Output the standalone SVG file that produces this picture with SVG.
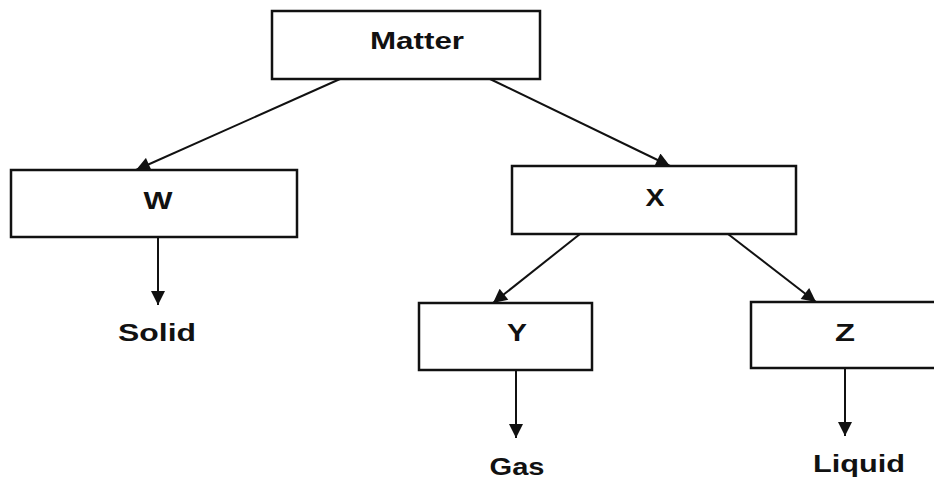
<svg xmlns="http://www.w3.org/2000/svg" width="934" height="480" viewBox="0 0 934 480">
<style>
.box{fill:#fff;stroke:#111;stroke-width:2.5}
.t{font-family:"Liberation Sans",Arial,sans-serif;font-weight:bold;font-size:24px;fill:#111;text-anchor:middle}
.c{stroke:#111;stroke-width:2;fill:none;marker-end:url(#ah)}
</style>
<defs>
<marker id="ah" viewBox="0 0 10 10" refX="10" refY="5" markerWidth="16" markerHeight="14" markerUnits="userSpaceOnUse" orient="auto">
<path d="M0,0 L10,5 L0,10 z" fill="#111"/>
</marker>
</defs>
<rect width="934" height="480" fill="#fff"/>
<g id="connectors">
<line class="c" x1="340" y1="79" x2="136" y2="170"/>
<line class="c" x1="490" y1="79" x2="670" y2="166"/>
<line class="c" x1="580" y1="234" x2="493" y2="303"/>
<line class="c" x1="728" y1="234" x2="816" y2="302"/>
<line class="c" x1="158" y1="237" x2="158" y2="305"/>
<line class="c" x1="516" y1="370" x2="516" y2="438"/>
<line class="c" x1="845" y1="368" x2="845" y2="436"/>
</g>
<g id="matter">
<rect class="box" x="272" y="11" width="268" height="68"/>
<text class="t" x="417" y="49" textLength="94" lengthAdjust="spacingAndGlyphs">Matter</text>
</g>
<g id="w">
<rect class="box" x="11" y="170" width="286" height="67"/>
<text class="t" x="158" y="209" textLength="29" lengthAdjust="spacingAndGlyphs">W</text>
</g>
<g id="x">
<rect class="box" x="512" y="166" width="284" height="68"/>
<text class="t" x="655" y="206" textLength="19" lengthAdjust="spacingAndGlyphs">X</text>
</g>
<g id="y">
<rect class="box" x="419" y="303" width="173" height="67"/>
<text class="t" x="517" y="341" textLength="20" lengthAdjust="spacingAndGlyphs">Y</text>
</g>
<g id="z">
<rect class="box" x="751" y="302" width="190" height="66"/>
<text class="t" x="845" y="341" textLength="20" lengthAdjust="spacingAndGlyphs">Z</text>
</g>
<g id="solid"><text class="t" x="157" y="341" textLength="78" lengthAdjust="spacingAndGlyphs">Solid</text></g>
<g id="gas"><text class="t" x="517" y="475" textLength="55" lengthAdjust="spacingAndGlyphs">Gas</text></g>
<g id="liquid"><text class="t" x="859" y="472" textLength="92" lengthAdjust="spacingAndGlyphs">Liquid</text></g>
</svg>
